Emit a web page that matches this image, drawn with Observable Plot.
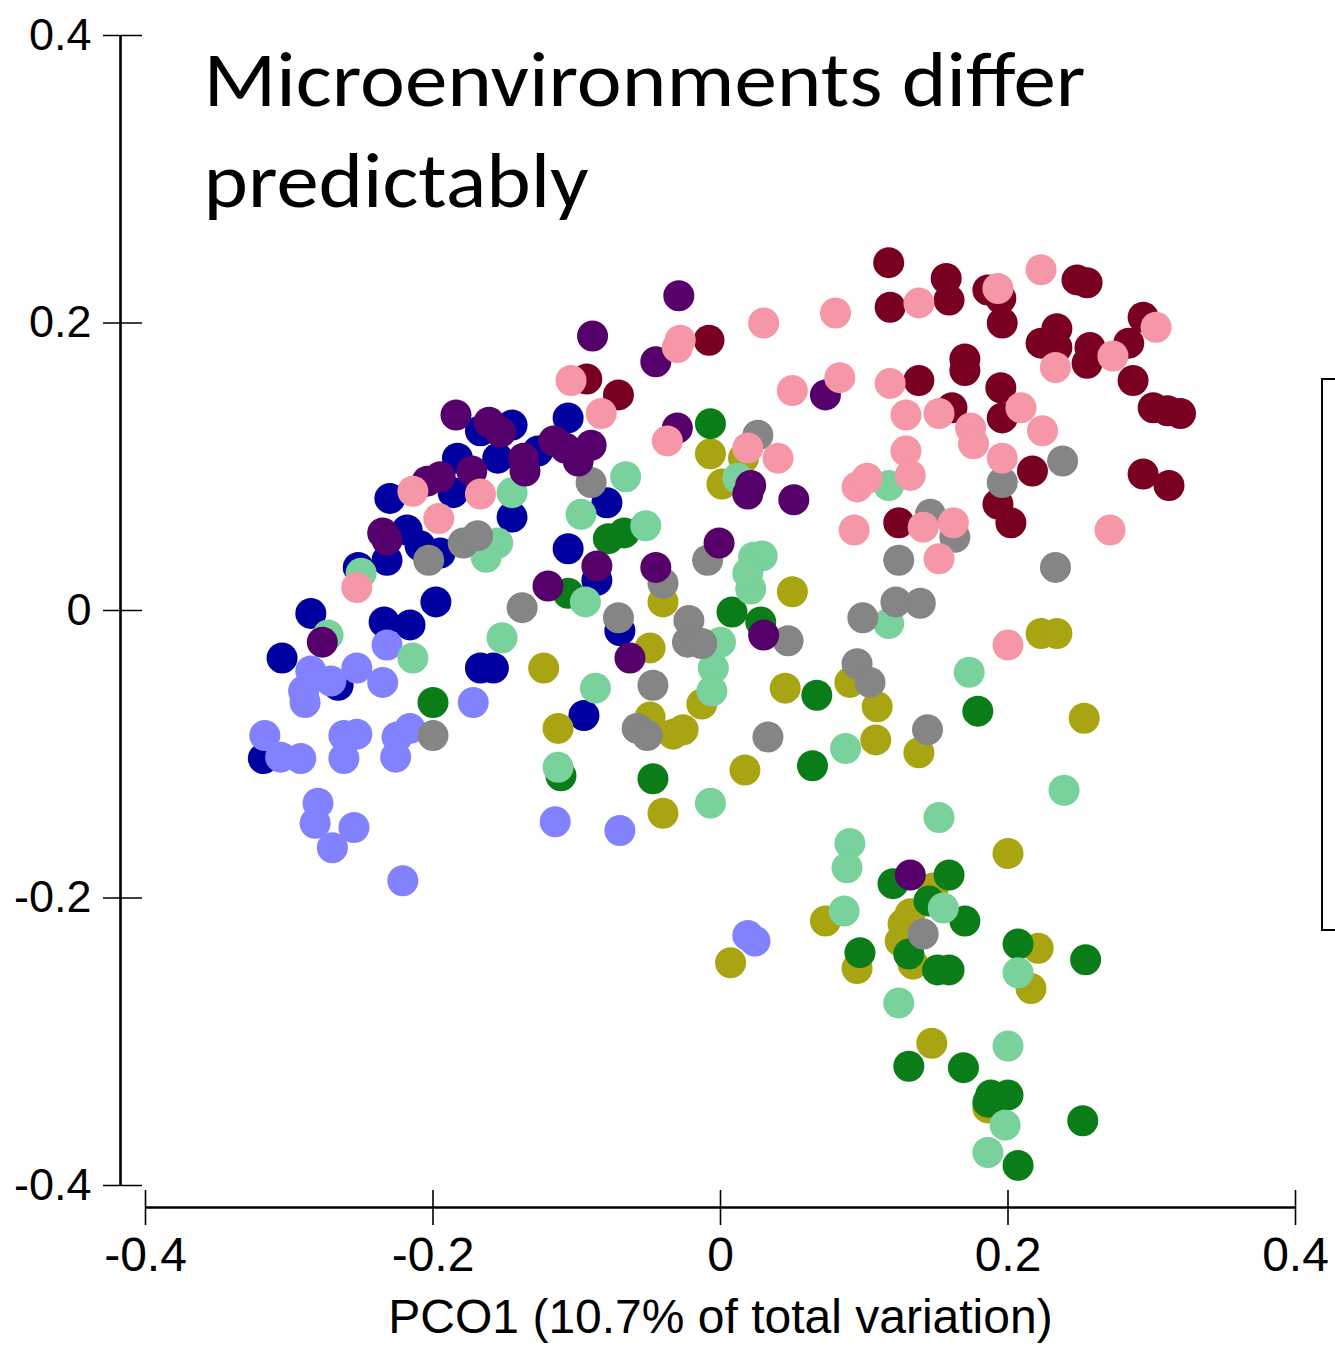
<!DOCTYPE html>
<html>
<head>
<meta charset="utf-8">
<script src="https://cdn.jsdelivr.net/npm/d3@7"></script>
<script src="https://cdn.jsdelivr.net/npm/@observablehq/plot@0.6"></script>
<style>
  html, body { margin: 0; padding: 0; background: #fff; overflow: hidden; }
  #wrap { position: relative; width: 1335px; height: 1347px; overflow: hidden; }
  #legendBox { position: absolute; left: 1321px; top: 378px; width: 60px; height: 553px; border: 2px solid #000; box-sizing: border-box; }
</style>
</head>
<body>
<div id="wrap"><div id="legendBox"></div></div>
<script>
// ---- Tick values and labels ----
const xTicks = [-0.4, -0.2, 0, 0.2, 0.4];
const yTicks = [-0.4, -0.2, 0, 0.2, 0.4];
const xLabel = "PCO1 (10.7% of total variation)";
const titleLines = ["Microenvironments differ", "predictably"];

// ---- Groups (draw order) and colours ----
const categories = ["Group 1", "Group 2", "Group 3", "Group 4", "Group 5", "Group 6", "Group 7", "Group 8", "Group 9"];
const colors = ["#0000A0", "#8282FF", "#7A0021", "#A9A512", "#0A7D18", "#79D19C", "#858585", "#55006B", "#F597A7"];

// ---- Point coordinates [PCO1, PCO2] per group ----
const navyPts = [[-0.106,0.134],[-0.167,0.125],[-0.145,0.129],[-0.183,0.106],[-0.155,0.106],[-0.127,0.111],[-0.230,0.078],[-0.186,0.082],[-0.145,0.065],[-0.218,0.056],[-0.106,0.043],[-0.252,0.030],[-0.232,0.035],[-0.079,0.075],[-0.086,0.021],[-0.198,0.006],[-0.285,-0.002],[-0.234,-0.008],[-0.216,-0.010],[-0.305,-0.033],[-0.266,-0.052],[-0.167,-0.040],[-0.158,-0.040],[-0.318,-0.103],[-0.095,-0.073],[-0.070,-0.014],[-0.195,0.040],[-0.209,0.045]];
const lightBluePts = [[-0.232,-0.024],[-0.253,-0.040],[-0.285,-0.042],[-0.271,-0.049],[-0.290,-0.056],[-0.289,-0.064],[-0.235,-0.050],[-0.172,-0.064],[-0.216,-0.082],[-0.225,-0.088],[-0.226,-0.102],[-0.317,-0.087],[-0.306,-0.102],[-0.292,-0.103],[-0.262,-0.087],[-0.253,-0.086],[-0.262,-0.103],[-0.280,-0.134],[-0.282,-0.148],[-0.270,-0.165],[-0.255,-0.151],[-0.221,-0.188],[-0.115,-0.147],[-0.070,-0.153],[0.019,-0.226],[0.024,-0.230]];
const maroonPts = [[-0.008,0.188],[-0.093,0.161],[-0.071,0.150],[0.117,0.242],[0.118,0.211],[0.157,0.231],[0.159,0.216],[0.186,0.223],[0.196,0.200],[0.248,0.230],[0.255,0.228],[0.234,0.196],[0.223,0.186],[0.234,0.183],[0.257,0.183],[0.255,0.172],[0.284,0.186],[0.294,0.204],[0.287,0.160],[0.301,0.141],[0.311,0.139],[0.320,0.137],[0.170,0.175],[0.170,0.167],[0.138,0.160],[0.195,0.155],[0.161,0.141],[0.196,0.134],[0.217,0.097],[0.294,0.095],[0.312,0.087],[0.193,0.074],[0.202,0.061],[0.124,0.061],[0.195,0.217]];
const olivePts = [[-0.007,0.109],[0.016,0.106],[0.001,0.088],[0.050,0.013],[-0.040,0.006],[-0.049,-0.026],[-0.013,-0.065],[-0.049,-0.074],[-0.033,-0.086],[-0.026,-0.083],[0.045,-0.054],[0.090,-0.050],[0.109,-0.067],[0.108,-0.090],[0.017,-0.111],[-0.040,-0.141],[-0.123,-0.040],[-0.113,-0.082],[0.223,-0.016],[0.234,-0.016],[0.253,-0.075],[0.138,-0.099],[0.200,-0.169],[0.148,-0.193],[0.132,-0.211],[0.127,-0.218],[0.125,-0.230],[0.073,-0.216],[0.095,-0.249],[0.134,-0.246],[0.221,-0.235],[0.216,-0.263],[0.007,-0.245],[0.147,-0.301],[0.186,-0.346]];
const darkGreenPts = [[-0.007,0.130],[-0.078,0.050],[-0.067,0.054],[-0.106,0.012],[0.008,-0.001],[0.028,-0.008],[-0.200,-0.064],[-0.111,-0.115],[-0.047,-0.117],[0.067,-0.059],[0.064,-0.108],[0.179,-0.070],[0.120,-0.190],[0.159,-0.184],[0.170,-0.216],[0.097,-0.238],[0.131,-0.239],[0.151,-0.250],[0.159,-0.250],[0.207,-0.232],[0.254,-0.243],[0.131,-0.317],[0.169,-0.318],[0.186,-0.342],[0.188,-0.337],[0.200,-0.337],[0.207,-0.386],[0.252,-0.355],[0.145,-0.202]];
const lightGreenPts = [[-0.145,0.082],[-0.155,0.047],[-0.163,0.037],[-0.250,0.026],[-0.273,-0.017],[-0.214,-0.033],[-0.152,-0.019],[-0.066,0.093],[-0.097,0.067],[-0.052,0.059],[0.023,0.037],[0.029,0.038],[0.012,0.092],[0.117,0.087],[-0.094,0.006],[-0.087,-0.054],[-0.113,-0.109],[0.000,-0.022],[-0.005,-0.040],[-0.006,-0.056],[0.021,0.015],[0.019,0.026],[0.117,-0.009],[0.173,-0.043],[0.087,-0.096],[-0.007,-0.134],[0.090,-0.162],[0.088,-0.179],[0.086,-0.209],[0.124,-0.273],[0.152,-0.144],[0.155,-0.207],[0.239,-0.125],[0.207,-0.252],[0.200,-0.303],[0.198,-0.358],[0.186,-0.377]];
const grayPts = [[0.026,0.122],[-0.090,0.089],[-0.009,0.035],[-0.179,0.047],[-0.169,0.052],[-0.203,0.035],[-0.138,0.002],[-0.040,0.019],[-0.071,-0.005],[-0.022,-0.007],[-0.023,-0.022],[-0.013,-0.023],[-0.047,-0.052],[-0.058,-0.082],[-0.051,-0.087],[0.033,-0.088],[0.047,-0.021],[0.095,-0.037],[0.104,-0.050],[0.099,-0.005],[0.122,0.006],[0.139,0.005],[0.144,-0.083],[-0.200,-0.087],[0.238,0.104],[0.196,0.089],[0.146,0.067],[0.163,0.051],[0.233,0.030],[0.124,0.035],[0.141,-0.225]];
const purplePts = [[-0.029,0.219],[-0.089,0.191],[-0.045,0.173],[-0.030,0.127],[0.073,0.150],[0.021,0.087],[0.019,0.081],[0.051,0.077],[-0.001,0.047],[-0.086,0.031],[-0.045,0.030],[-0.090,0.115],[-0.099,0.104],[-0.184,0.136],[-0.161,0.131],[-0.153,0.124],[-0.173,0.097],[-0.136,0.097],[-0.137,0.106],[-0.116,0.118],[-0.108,0.113],[-0.204,0.090],[-0.195,0.093],[-0.235,0.054],[-0.232,0.049],[-0.120,0.017],[-0.277,-0.022],[0.030,-0.017],[-0.063,-0.033],[0.132,-0.184]];
const pinkPts = [[0.193,0.224],[0.223,0.237],[0.138,0.214],[0.233,0.169],[0.273,0.177],[0.303,0.197],[0.152,0.137],[0.129,0.136],[0.174,0.127],[0.176,0.116],[0.196,0.106],[0.209,0.141],[0.224,0.125],[0.129,0.111],[0.132,0.094],[0.271,0.056],[0.162,0.061],[0.141,0.058],[0.152,0.036],[0.200,-0.024],[0.083,0.162],[0.050,0.153],[0.080,0.207],[0.030,0.200],[0.118,0.158],[0.095,0.086],[0.102,0.092],[0.093,0.056],[0.019,0.113],[0.040,0.106],[-0.037,0.118],[-0.030,0.183],[-0.028,0.188],[-0.104,0.160],[-0.083,0.137],[-0.214,0.083],[-0.196,0.064],[-0.167,0.081],[-0.253,0.016]];

const groupPoints = [navyPts, lightBluePts, maroonPts, olivePts, darkGreenPts, lightGreenPts, grayPts, purplePts, pinkPts];
const rows = [];
categories.forEach((g, i) => { for (const [x, y] of groupPoints[i]) rows.push({group: g, x, y}); });

const fmt = d => (d === 0 ? "0" : String(d));

const chart = Plot.plot({
  width: 1335,
  height: 1347,
  marginLeft: 145,
  marginRight: 40,
  marginTop: 35,
  marginBottom: 162,
  x: {domain: [-0.4, 0.4]},
  y: {domain: [-0.4, 0.4]},
  color: {type: "ordinal", domain: categories, range: colors},
  style: {fontFamily: "'Liberation Sans', Arial, Helvetica, sans-serif", color: "#000", background: "transparent", overflow: "visible"},
  marks: [
    Plot.axisY(yTicks, {anchor: "left", tickSize: 39, dx: -3, tickPadding: 12, fontSize: 45, tickFormat: fmt, label: null, strokeWidth: 1.6, stroke: "#000"}),
    Plot.ruleX([-0.4], {y1: -0.4, y2: 0.4, dx: -25, strokeWidth: 2.6, stroke: "#000"}),
    Plot.axisX(xTicks, {anchor: "bottom", tickSize: 35, dy: 5, tickPadding: 11, fontSize: 48, tickFormat: fmt, label: null, strokeWidth: 1.6, stroke: "#000"}),
    Plot.ruleY([-0.4], {x1: -0.4, x2: 0.4, dy: 22, strokeWidth: 2.6, stroke: "#000"}),
    Plot.dot(rows, {x: "x", y: "y", fill: "group", r: 15.5, stroke: null}),
    Plot.text([xLabel], {text: d => d, frameAnchor: "bottom", dy: 147, fontSize: 48, fill: "#000"}),
    Plot.text([titleLines.join("\n")], {text: d => d, frameAnchor: "top-left", textAnchor: "start", lineAnchor: "top", dx: 58, dy: -2, fontSize: 78, lineHeight: 1.3, fontFamily: "Carlito, Calibri, Lato, sans-serif", fill: "#000", className: "title-text"})
  ]
});
document.getElementById("wrap").prepend(chart);

// stretch the title lines to the reference widths (Calibri substitute is narrower)
const targetWidths = [882, 385];
chart.querySelectorAll(".title-text tspan").forEach((el) => {
  const idx = titleLines.indexOf(el.textContent);
  if (idx >= 0) {
    el.setAttribute("textLength", targetWidths[idx]);
    el.setAttribute("lengthAdjust", "spacingAndGlyphs");
  }
});
</script>
</body>
</html>
